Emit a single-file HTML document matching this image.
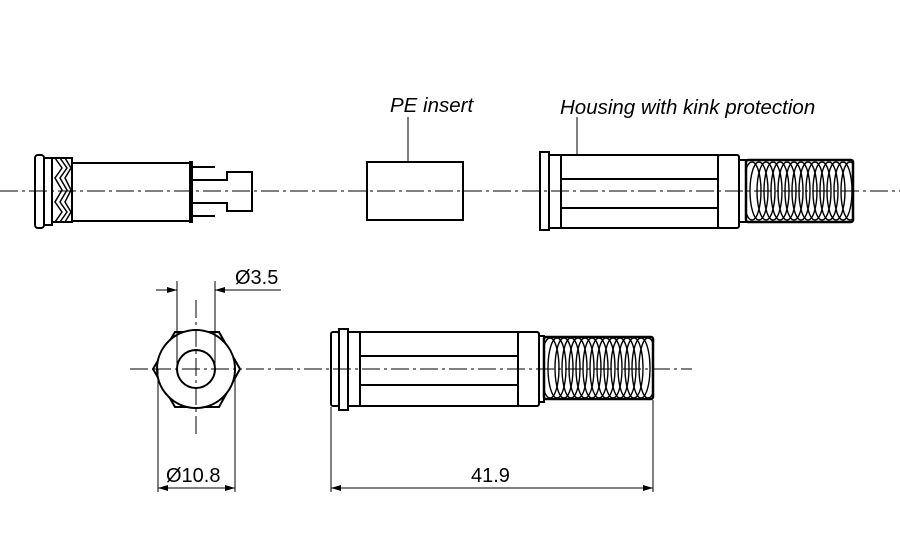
<!DOCTYPE html>
<html><head><meta charset="utf-8"><style>
html,body{margin:0;padding:0;background:#fff;}
svg{display:block}
text{font-family:"Liberation Sans",sans-serif;fill:#000}
</style></head><body>
<svg width="900" height="537" viewBox="0 0 900 537" xmlns="http://www.w3.org/2000/svg">
<defs>
<marker id="ar" viewBox="0 0 10 6" refX="10" refY="3" markerWidth="14" markerHeight="6" markerUnits="userSpaceOnUse" orient="auto"><path d="M0,0 L10,3 L0,6 Z" fill="#000"/></marker>
<clipPath id="k1"><rect x="746" y="160" width="107" height="62" rx="2"/></clipPath>
<clipPath id="k2"><rect x="544" y="337" width="109" height="62" rx="2"/></clipPath>
</defs>
<g stroke="#000" stroke-width="1" stroke-dasharray="18,4,3,4" fill="none">
<line x1="0" y1="191" x2="900" y2="191"/>
<line x1="130" y1="369" x2="692" y2="369"/>
</g>
<g stroke="#000" stroke-width="2" fill="none">
<rect x="35" y="155" width="9" height="73" rx="3"/>
<rect x="44" y="158" width="8" height="67"/>
<path d="M52,158 L72,158 L72,222 L52,222"/>
<path d="M55,158 L62,168 L55,178 L62,190 L55,202 L62,212 L55,222 M60,158 L67,168 L60,178 L67,190 L60,202 L67,212 L60,222 M65,158 L71,168 L65,178 L71,190 L65,202 L71,212 L65,222" stroke-width="1.5"/>
<rect x="72" y="163" width="118" height="58"/>
<rect x="190" y="162" width="2" height="60"/>
<line x1="192" y1="167" x2="215" y2="167"/>
<line x1="192" y1="216" x2="215" y2="216"/>
<path d="M192,180 L227,180 L227,172 L252,172 L252,211 L227,211 L227,203 L192,203"/>
</g>
<g stroke="#000" fill="none">
<rect x="367" y="162" width="96" height="58" stroke-width="2"/>
<line x1="408" y1="117" x2="408" y2="162" stroke-width="1"/>
<line x1="577" y1="117" x2="577" y2="155" stroke-width="1"/>
</g>
<text x="390" y="112" font-size="20.5" font-style="italic">PE insert</text>
<text x="560" y="114" font-size="20.5" font-style="italic">Housing with kink protection</text>
<g stroke="#000" stroke-width="2" fill="none">
<rect x="540" y="152" width="9" height="78"/>
<rect x="549" y="155" width="12" height="73"/>
<rect x="561" y="155" width="157" height="73"/>
<line x1="561" y1="179" x2="718" y2="179"/>
<line x1="561" y1="208" x2="718" y2="208"/>
<rect x="718" y="155" width="21" height="73" rx="2"/>
<rect x="739" y="160" width="7" height="62"/>
</g>
<g clip-path="url(#k1)" stroke="#000" stroke-width="1.4" fill="none">
<ellipse cx="752" cy="191" rx="9" ry="29"/><ellipse cx="759" cy="191" rx="9" ry="29"/><ellipse cx="766" cy="191" rx="9" ry="29"/><ellipse cx="773" cy="191" rx="9" ry="29"/><ellipse cx="780" cy="191" rx="9" ry="29"/><ellipse cx="787" cy="191" rx="9" ry="29"/><ellipse cx="794" cy="191" rx="9" ry="29"/><ellipse cx="801" cy="191" rx="9" ry="29"/><ellipse cx="808" cy="191" rx="9" ry="29"/><ellipse cx="815" cy="191" rx="9" ry="29"/><ellipse cx="822" cy="191" rx="9" ry="29"/><ellipse cx="829" cy="191" rx="9" ry="29"/><ellipse cx="836" cy="191" rx="9" ry="29"/><ellipse cx="843" cy="191" rx="9" ry="29"/><ellipse cx="850" cy="191" rx="9" ry="29"/>
</g>
<rect x="746" y="160" width="107" height="62" rx="2" stroke="#000" stroke-width="2.5" fill="none"/>
<g stroke="#000" stroke-width="2" fill="none">
<path d="M175,332 L219,332 L240,369 L219,407 L175,407 L153,369 Z"/>
<circle cx="196" cy="369" r="39" fill="#fff"/>
<circle cx="196" cy="369" r="19"/>
</g>
<g stroke="#000" stroke-width="1" fill="none">
<line x1="196" y1="300" x2="196" y2="437" stroke-dasharray="18,4,3,4"/>
<line x1="153" y1="369" x2="240" y2="369" stroke-dasharray="18,4,3,4"/>
<line x1="177" y1="281" x2="177" y2="369"/>
<line x1="215" y1="281" x2="215" y2="369"/>
<line x1="156" y1="290" x2="177" y2="290" marker-end="url(#ar)"/>
<line x1="281" y1="290" x2="215" y2="290" marker-end="url(#ar)"/>
<line x1="158" y1="369" x2="158" y2="492"/>
<line x1="235" y1="369" x2="235" y2="492"/>
<line x1="196" y1="488" x2="158" y2="488" marker-end="url(#ar)"/>
<line x1="196" y1="488" x2="235" y2="488" marker-end="url(#ar)"/>
<line x1="331" y1="407" x2="331" y2="492"/>
<line x1="653" y1="400" x2="653" y2="492"/>
<line x1="490" y1="488" x2="331" y2="488" marker-end="url(#ar)"/>
<line x1="490" y1="488" x2="653" y2="488" marker-end="url(#ar)"/>
</g>
<text x="235" y="284" font-size="20">Ø3.5</text>
<text x="166" y="482" font-size="20">Ø10.8</text>
<text x="471" y="482" font-size="20">41.9</text>
<g stroke="#000" stroke-width="2" fill="none">
<rect x="331" y="332" width="8" height="74" rx="2"/>
<rect x="339" y="329" width="9" height="81"/>
<rect x="348" y="332" width="12" height="74"/>
<rect x="360" y="332" width="158" height="74"/>
<line x1="360" y1="356" x2="518" y2="356"/>
<line x1="360" y1="385" x2="518" y2="385"/>
<rect x="518" y="332" width="21" height="74" rx="2"/>
<rect x="539" y="336" width="5" height="66"/>
</g>
<g clip-path="url(#k2)" stroke="#000" stroke-width="1.4" fill="none">
<ellipse cx="550" cy="368" rx="9" ry="30"/><ellipse cx="557" cy="368" rx="9" ry="30"/><ellipse cx="564" cy="368" rx="9" ry="30"/><ellipse cx="571" cy="368" rx="9" ry="30"/><ellipse cx="578" cy="368" rx="9" ry="30"/><ellipse cx="585" cy="368" rx="9" ry="30"/><ellipse cx="592" cy="368" rx="9" ry="30"/><ellipse cx="599" cy="368" rx="9" ry="30"/><ellipse cx="606" cy="368" rx="9" ry="30"/><ellipse cx="613" cy="368" rx="9" ry="30"/><ellipse cx="620" cy="368" rx="9" ry="30"/><ellipse cx="627" cy="368" rx="9" ry="30"/><ellipse cx="634" cy="368" rx="9" ry="30"/><ellipse cx="641" cy="368" rx="9" ry="30"/><ellipse cx="648" cy="368" rx="9" ry="30"/>
</g>
<rect x="544" y="337" width="109" height="62" rx="2" stroke="#000" stroke-width="2.5" fill="none"/>
</svg>
</body></html>
